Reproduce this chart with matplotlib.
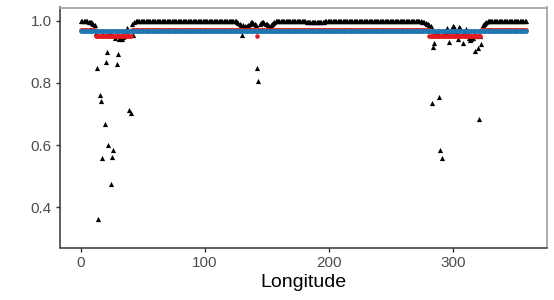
import numpy as np
import matplotlib
matplotlib.use("Agg")
import matplotlib.pyplot as plt

plt.rcParams['font.family'] = ['Liberation Sans', 'DejaVu Sans']

# longitude grid, one value per degree
longitude = np.arange(0, 360)

# black triangles
black = [
    1.000, 1.000, 1.000, 1.000, 0.999, 0.998, 0.997, 0.996, 0.994, 0.992,  # 0
    0.989, 0.985, 0.960, 0.847, 0.362, 0.761, 0.743, 0.558, 0.955, 0.668,  # 10
    0.867, 0.899, 0.600, 0.960, 0.474, 0.563, 0.584, 0.945, 0.950, 0.860,  # 20
    0.894, 0.940, 0.945, 0.942, 0.948, 0.950, 0.965, 0.976, 0.955, 0.713,  # 30
    0.703, 0.990, 0.955, 0.995, 0.998, 0.999, 1.000, 1.000, 1.000, 1.000,  # 40
    1.000, 1.000, 1.000, 0.999, 0.999, 1.000, 1.000, 1.000, 1.000, 1.000,  # 50
    1.000, 1.000, 0.999, 0.999, 0.999, 1.000, 1.000, 1.000, 1.000, 1.000,  # 60
    1.000, 1.000, 1.000, 1.000, 0.999, 0.999, 0.999, 1.000, 1.000, 1.000,  # 70
    1.000, 1.000, 1.000, 1.000, 1.000, 1.000, 0.999, 0.999, 1.000, 1.000,  # 80
    1.000, 1.000, 1.000, 1.000, 1.000, 1.000, 1.000, 0.999, 0.999, 1.000,  # 90
    1.000, 1.000, 1.000, 1.000, 1.000, 1.000, 1.000, 1.000, 1.000, 1.000,  # 100
    1.000, 1.000, 1.000, 1.000, 1.000, 1.000, 1.000, 1.000, 1.000, 1.000,  # 110
    1.000, 1.000, 0.999, 0.999, 0.998, 0.998, 0.996, 0.993, 0.990, 0.985,  # 120
    0.955, 0.985, 0.982, 0.980, 0.982, 0.985, 0.990, 0.994, 0.996, 0.993,  # 130
    0.990, 0.985, 0.849, 0.807, 0.990, 0.993, 0.995, 0.994, 0.992, 0.990,  # 140
    0.988, 0.985, 0.983, 0.985, 0.990, 0.993, 0.996, 0.998, 0.999, 1.000,  # 150
    1.000, 1.000, 1.000, 1.000, 1.000, 1.000, 1.000, 1.000, 1.000, 1.000,  # 160
    1.000, 1.000, 1.000, 1.000, 1.000, 1.000, 1.000, 1.000, 1.000, 1.000,  # 170
    0.999, 0.998, 0.997, 0.996, 0.995, 0.995, 0.995, 0.995, 0.995, 0.995,  # 180
    0.995, 0.995, 0.995, 0.996, 0.996, 0.997, 0.997, 0.998, 0.999, 1.000,  # 190
    1.000, 1.000, 1.000, 1.000, 1.000, 1.000, 1.000, 1.000, 1.000, 1.000,  # 200
    1.000, 1.000, 1.000, 1.000, 1.000, 1.000, 1.000, 1.000, 1.000, 1.000,  # 210
    1.000, 1.000, 1.000, 1.000, 1.000, 1.000, 1.000, 1.000, 1.000, 1.000,  # 220
    1.000, 1.000, 1.000, 1.000, 1.000, 1.000, 1.000, 1.000, 1.000, 1.000,  # 230
    1.000, 1.000, 1.000, 1.000, 1.000, 1.000, 1.000, 1.000, 1.000, 1.000,  # 240
    1.000, 1.000, 1.000, 1.000, 1.000, 1.000, 1.000, 1.000, 1.000, 1.000,  # 250
    1.000, 1.000, 1.000, 1.000, 1.000, 1.000, 1.000, 1.000, 1.000, 1.000,  # 260
    1.000, 0.999, 0.999, 0.998, 0.998, 0.997, 0.996, 0.995, 0.993, 0.990,  # 270
    0.988, 0.985, 0.982, 0.736, 0.914, 0.928, 0.960, 0.955, 0.960, 0.756,  # 280
    0.584, 0.559, 0.955, 0.960, 0.965, 0.976, 0.960, 0.931, 0.965, 0.975,  # 290
    0.984, 0.980, 0.965, 0.960, 0.941, 0.978, 0.975, 0.955, 0.928, 0.960,  # 300
    0.965, 0.973, 0.955, 0.945, 0.939, 0.940, 0.945, 0.955, 0.901, 0.950,  # 310
    0.912, 0.684, 0.950, 0.926, 0.985, 0.990, 0.993, 0.996, 0.998, 0.999,  # 320
    1.000, 1.000, 1.000, 1.000, 1.000, 1.000, 1.000, 1.000, 1.000, 1.000,  # 330
    1.000, 1.000, 1.000, 1.000, 1.000, 1.000, 1.000, 1.000, 1.000, 1.000,  # 340
    1.000, 1.000, 1.000, 1.000, 1.000, 1.000, 1.000, 1.000, 1.000, 1.000,  # 350
]

# red points: steps (start lon, end lon, value)
red_steps = [
    (0, 11, 0.971),
    (12, 40, 0.952),
    (41, 141, 0.971),
    (142, 142, 0.952),
    (143, 280, 0.971),
    (281, 322, 0.952),
    (323, 359, 0.971),
]
red = np.empty(len(longitude))
for a, b, v in red_steps:
    red[(longitude >= a) & (longitude <= b)] = v

# blue points: flat level
blue_level = 0.967
blue = np.full(len(longitude), blue_level)

fig = plt.figure(figsize=(5.54, 3.0), dpi=100)
ax = fig.add_axes([60/554, 1 - 247.5/300, 487/554, 240/300])

ax.scatter(longitude, black, marker='^', s=14, color='black', linewidths=0, zorder=2)
ax.scatter(longitude, red, marker='o', s=11, color='#E41A1C', linewidths=0, zorder=3)
ax.scatter(longitude, blue, marker='o', s=11, color='#1F78B4', linewidths=0, zorder=4)

ax.set_xlim(-17, 376)
ax.set_ylim(0.271, 1.042)
ax.set_xticks([0, 100, 200, 300])
ax.set_yticks([0.4, 0.6, 0.8, 1.0])
ax.set_yticklabels(['0.4', '0.6', '0.8', '1.0'])
ax.set_xlabel('Longitude', fontsize=14, color='black', labelpad=3)

ax.tick_params(axis='both', labelsize=11, colors='#333333', labelcolor='#4D4D4D',
               length=3, width=1, pad=3)
for side in ['left', 'bottom']:
    ax.spines[side].set_color('#333333')
    ax.spines[side].set_linewidth(1.1)
for side in ['top', 'right']:
    ax.spines[side].set_color('#A6A6A6')
    ax.spines[side].set_linewidth(1.3)

fig.savefig('out.png', dpi=100)
